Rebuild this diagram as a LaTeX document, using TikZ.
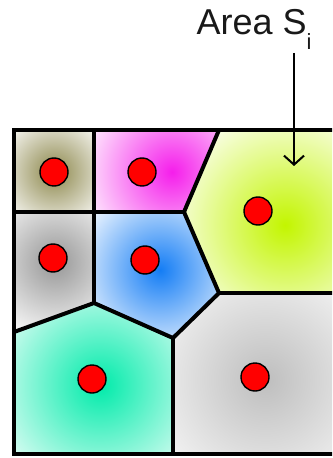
\documentclass[tikz,border=0pt]{standalone}
\usepackage{fontspec}
\setmainfont{Liberation Sans}
\usetikzlibrary{arrows.meta}
\definecolor{oliveshade}{RGB}{140,135,75}
\definecolor{magentashade}{RGB}{245,30,235}
\definecolor{limeshade}{RGB}{195,245,0}
\definecolor{greyshade}{RGB}{150,150,150}
\definecolor{blueshade}{RGB}{20,125,245}
\definecolor{aquashade}{RGB}{0,235,170}
\definecolor{lightgreyshade}{RGB}{190,190,190}
\tikzset{
    cellline/.style={draw=black, line width=2pt, line join=miter},
    sitedot/.style={circle, fill=red, draw=black, line width=0.7pt,
        minimum size=14pt, inner sep=0pt},
    arealabel/.style={font=\fontsize{18}{20}\selectfont, text=black!90, inner sep=0pt},
    areaarrow/.style={-{Straight Barb[length=4.5pt,width=10pt]}, line width=1pt}
}

\begin{document}
\begin{tikzpicture}[x=0.5pt, y=-0.5pt]
\clip (0,0) rectangle (332,458);
% vertices of the cells
\coordinate (tl) at (14,130);
\coordinate (tr) at (340,130);
\coordinate (bl) at (14,454);
\coordinate (br) at (340,454);
\coordinate (va) at (94,130);
\coordinate (vb) at (94,212);
\coordinate (vc) at (14,212);
\coordinate (vd) at (184,212);
\coordinate (ve) at (219,130);
\coordinate (vf) at (219,293);
\coordinate (vg) at (173,338);
\coordinate (vh) at (94,303);
\coordinate (vi) at (14,332);
\coordinate (vj) at (340,293);
\coordinate (vk) at (173,454);
% shaded cells
\begin{scope}
  \clip (tl) -- (va) -- (vb) -- (vc) -- cycle;
  \shade[inner color=oliveshade, outer color=white] (54,172) circle (32pt);
\end{scope}
\begin{scope}
  \clip (va) -- (ve) -- (vd) -- (vb) -- cycle;
  \shade[inner color=magentashade, outer color=white] (172,172) circle (50pt);
\end{scope}
\begin{scope}
  \clip (ve) -- (tr) -- (vj) -- (vf) -- (vd) -- cycle;
  \shade[inner color=limeshade, outer color=white] (285,225) circle (65pt);
\end{scope}
\begin{scope}
  \clip (vc) -- (vb) -- (vh) -- (vi) -- cycle;
  \shade[inner color=greyshade, outer color=white] (55,262) circle (42pt);
\end{scope}
\begin{scope}
  \clip (vb) -- (vd) -- (vf) -- (vg) -- (vh) -- cycle;
  \shade[inner color=blueshade, outer color=white] (160,270) circle (48pt);
\end{scope}
\begin{scope}
  \clip (vi) -- (vh) -- (vg) -- (vk) -- (bl) -- cycle;
  \shade[inner color=aquashade, outer color=white] (100,385) circle (66pt);
\end{scope}
\begin{scope}
  \clip (vg) -- (vf) -- (vj) -- (br) -- (vk) -- cycle;
  \shade[inner color=lightgreyshade, outer color=white] (265,380) circle (75pt);
\end{scope}
% cell borders
\draw[cellline] (tl) rectangle (br);
\draw[cellline] (va) -- (vh);
\draw[cellline] (vc) -- (vd);
\draw[cellline] (ve) -- (vd) -- (vf) -- (vg) -- (vh) -- (vi);
\draw[cellline] (vf) -- (vj);
\draw[cellline] (vg) -- (vk);
% sites
\node[sitedot] (site1) at (54,172) {};
\node[sitedot] (site2) at (142,172) {};
\node[sitedot] (site3) at (258,211) {};
\node[sitedot] (site4) at (53,258) {};
\node[sitedot] (site5) at (145,260) {};
\node[sitedot] (site6) at (92,379) {};
\node[sitedot] (site7) at (255,377) {};
% label
\node[arealabel, anchor=base] (arealbl) at (254,35)
    {Area S\raisebox{-0.4em}{\fontsize{11}{11}\selectfont i}};
\coordinate (arrowstart) at (294,53);
\coordinate (arrowtip) at (294,166);
\draw[areaarrow] (arrowstart) -- (arrowtip);
\end{tikzpicture}
\end{document}
